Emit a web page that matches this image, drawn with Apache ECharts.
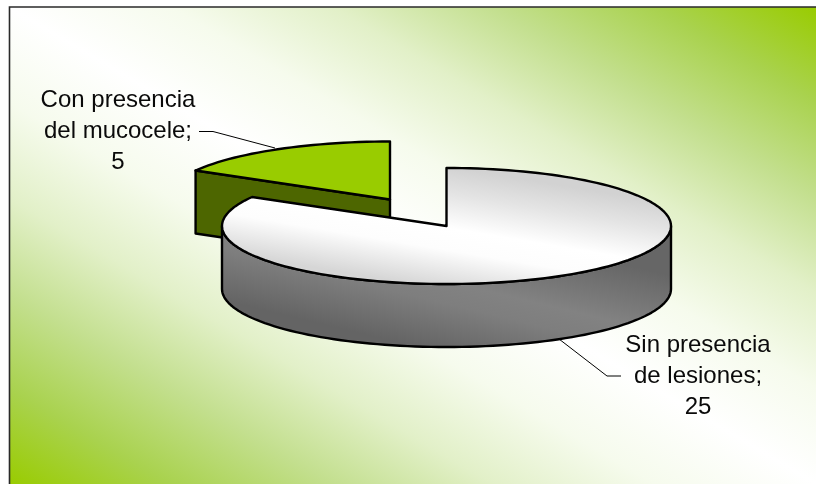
<!DOCTYPE html>
<html><head><meta charset="utf-8">
<style>html,body{margin:0;padding:0;background:#fff}#c{width:816px;height:484px}</style>
<script src="https://cdn.jsdelivr.net/npm/echarts@6/dist/echarts.min.js"></script>
</head><body><div id="c"></div>
<script>
const categories = ["Con presencia del mucocele", "Sin presencia de lesiones"];
const values = [5, 25];

const chart = echarts.init(document.getElementById('c'), null, {renderer:'canvas'});
const W=816,H=484;
const cx=418.25, cy=212.75, a=224.5, b=58, depth=63, startAngle=300;
const explode=[[-28.25,-13.25],[28.25,13.25]];
const total=values.reduce((s,v)=>s+v,0);
const topFill=[
  '#99CC00',
  new echarts.graphic.LinearGradient(458,168,438,288,[
    {offset:0,color:'#d2d2d2'},{offset:0.22,color:'#e4e4e4'},{offset:0.5,color:'#ffffff'},{offset:0.68,color:'#fdfdfd'},{offset:1,color:'#d6d6d6'}],true)
];
const labelPos=[[118,131],[698,376]];
const leaders=[
  [[199,131.5],[213,131.5],[275,148]],
  [[559,339],[607,376],[621,376]]
];
function pt(c,deg,dz){const r=deg*Math.PI/180;return [c[0]+a*Math.sin(r),c[1]-b*Math.cos(r)+(dz||0)];}
function arc(c,from,to,dz){const n=Math.max(2,Math.ceil(Math.abs(to-from)/2));const o=[];for(let i=0;i<=n;i++)o.push(pt(c,from+(to-from)*i/n,dz));return o;}

function renderItem(params,api){
  const i=params.dataIndex, v=api.value(0);
  let before=0;for(let k=0;k<i;k++)before+=values[k];
  const s=startAngle+before/total*360, e=s+v/total*360;
  const c=[cx+explode[i][0],cy+explode[i][1]];
  const stroke={stroke:'#000',lineWidth:2.4,lineJoin:'round'};
  const kids=[];
  const ranges=[];
  [[90,270],[450,630]].forEach(r=>{const f=Math.max(s,r[0]),t=Math.min(e,r[1]);if(t>f)ranges.push([f,t]);});
  ranges.forEach(r=>{
    const up=arc(c,r[0],r[1],0), dn=arc(c,r[1],r[0],depth);
    kids.push({type:'polygon',shape:{points:up.concat(dn)},style:Object.assign({
      fill:new echarts.graphic.LinearGradient(460,225,430,350,[
        {offset:0,color:'#666666'},{offset:0.45,color:'#828282'},{offset:0.62,color:'#7e7e7e'},{offset:1,color:'#646464'}],true)},stroke)});
  });
  if(i===0){
    const p=pt(c,s);
    kids.push({type:'polygon',shape:{points:[p,c,[c[0],c[1]+depth],[p[0],p[1]+depth]]},style:Object.assign({fill:'#4D6600'},stroke)});
  }
  kids.push({type:'polygon',shape:{points:[c].concat(arc(c,s,e,0))},style:Object.assign({fill:topFill[i]},stroke)});
  kids.push({type:'polyline',shape:{points:leaders[i]},style:{stroke:'#000',lineWidth:1,fill:null}});
  kids.push({type:'text',style:{
    x:labelPos[i][0],y:labelPos[i][1],
    text:categories[i].replace(/ (del|de) /,'\n$1 ')+';\n'+v,
    fill:'#0a0a0a',font:'24px "Liberation Sans", Arial, sans-serif',
    align:'center',verticalAlign:'middle',lineHeight:31
  }});
  return {type:'group',children:kids};
}

const gx=(9.5+W)/2, gy=(7+H)/2;
const sideStops=[[0,'#99CC00'],[0.1,'#a9d24e'],[0.2,'#c3df8e'],[0.3,'#e2f0c8'],[0.4,'#f6fbed'],[0.5,'#ffffff']];
const stops=sideStops.map(s=>({offset:s[0],color:s[1]})).concat(
  sideStops.slice(0,-1).reverse().map(s=>({offset:1-s[0],color:s[1]})));
chart.setOption({
  animation:false,
  graphic:[{type:'rect',z:-10,silent:true,shape:{x:9.5,y:7,width:W,height:H},style:{
    fill:new echarts.graphic.LinearGradient(gx-209,gy+354,gx+209,gy-354,stops,true),
    stroke:'#2a2a2a',lineWidth:1.6}}],
  series:[{
    type:'custom',coordinateSystem:'none',renderItem,silent:true,
    data:values.map((v,i)=>({name:categories[i],value:[v]}))
  }]
});
</script></body></html>
